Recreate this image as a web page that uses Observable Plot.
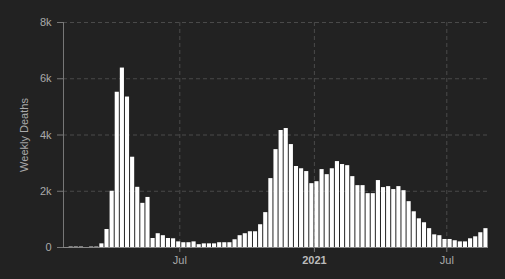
<!DOCTYPE html>
<html>
<head>
<meta charset="utf-8">
<script src="https://cdn.jsdelivr.net/npm/d3@7"></script>
<script src="https://cdn.jsdelivr.net/npm/@observablehq/plot@0.6"></script>
<style>
  html, body { margin: 0; padding: 0; background: #222222; }
  #chart { width: 505px; height: 279px; overflow: hidden; }
</style>
</head>
<body>
<div id="chart"></div>
<script>
// Week start dates (Friday) and weekly deaths
const weeks = [
  "2020-01-24","2020-01-31","2020-02-07","2020-02-14","2020-02-21","2020-02-28","2020-03-06",
  "2020-03-13","2020-03-20","2020-03-27","2020-04-03","2020-04-10","2020-04-17","2020-04-24",
  "2020-05-01","2020-05-08","2020-05-15","2020-05-22","2020-05-29","2020-06-05","2020-06-12",
  "2020-06-19","2020-06-26","2020-07-03","2020-07-10","2020-07-17","2020-07-24","2020-07-31",
  "2020-08-07","2020-08-14","2020-08-21","2020-08-28","2020-09-04","2020-09-11","2020-09-18",
  "2020-09-25","2020-10-02","2020-10-09","2020-10-16","2020-10-23","2020-10-30","2020-11-06",
  "2020-11-13","2020-11-20","2020-11-27","2020-12-04","2020-12-11","2020-12-18","2020-12-25",
  "2021-01-01","2021-01-08","2021-01-15","2021-01-22","2021-01-29","2021-02-05","2021-02-12",
  "2021-02-19","2021-02-26","2021-03-05","2021-03-12","2021-03-19","2021-03-26","2021-04-02",
  "2021-04-09","2021-04-16","2021-04-23","2021-04-30","2021-05-07","2021-05-14","2021-05-21",
  "2021-05-28","2021-06-04","2021-06-11","2021-06-18","2021-06-25","2021-07-02","2021-07-09",
  "2021-07-16","2021-07-23","2021-07-30","2021-08-06","2021-08-13","2021-08-20"
];
const deaths = [
  0, 15, 15, 15, 0, 15, 15,
  130, 640, 2000, 5520, 6380, 5350, 3210,
  2140, 1570, 1780, 320, 490, 420, 320,
  310, 200, 170, 170, 200, 100, 130,
  130, 130, 170, 170, 170, 275, 420,
  490, 560, 560, 810, 1240, 2450, 3480,
  4160, 4230, 3660, 2880, 2800, 2700, 2270,
  2340, 2770, 2590, 2800, 3055, 2950, 2910,
  2520, 2200, 2200, 1915, 1915, 2380, 2130,
  2165, 2060, 2165, 2020, 1630, 1270, 1020,
  880, 670, 450, 420, 285, 285, 240,
  200, 200, 310, 380, 525, 670
];
const xDomain = ["2020-01-24", "2021-08-27"];
const monthTicks = ["2020-07-01", "2021-07-01"];
const monthTickLabels = ["Jul", "Jul"];
const yearTicks = ["2021-01-01"];
const yearTickLabels = ["2021"];
const yTicks = [0, 2000, 4000, 6000, 8000];
const yTickLabels = ["0", "2k", "4k", "6k", "8k"];
const yLabel = "Weekly Deaths";

const data = weeks.map((w, i) => {
  const start = new Date(w);
  return { start, end: d3.utcDay.offset(start, 7), deaths: deaths[i] };
});
const mTicks = monthTicks.map(d => new Date(d));
const yrTicks = yearTicks.map(d => new Date(d));
const dom = xDomain.map(d => new Date(d));

const chart = Plot.plot({
  width: 505,
  height: 279,
  marginLeft: 63,
  marginRight: 17,
  marginTop: 22,
  marginBottom: 32,
  style: {
    background: "#222222",
    color: "#aaaaaa",
    fontFamily: "'Liberation Sans', Arial, sans-serif",
    fontSize: "11px"
  },
  x: { type: "utc", domain: dom },
  y: { domain: [0, 8000] },
  marks: [
    Plot.gridY(yTicks, { stroke: "#4a4a4a", strokeOpacity: 1, strokeDasharray: "4,3" }),
    Plot.gridX([...mTicks, ...yrTicks], { stroke: "#4a4a4a", strokeOpacity: 1, strokeDasharray: "4,3" }),
    Plot.rectY(data, {
      x1: "start", x2: "end", y: "deaths",
      fill: "#ffffff", insetLeft: 0.5, insetRight: 0.5
    }),
    Plot.ruleY([0], { stroke: "#888888" }),
    Plot.ruleX([dom[0]], { stroke: "#777777" }),
    Plot.axisY({
      ticks: yTicks,
      tickFormat: (d) => yTickLabels[yTicks.indexOf(d)],
      tickSize: 6, tickPadding: 6, stroke: "#777777", label: null, fill: "#aaaaaa"
    }),
    Plot.axisX({
      ticks: mTicks,
      tickFormat: (d) => monthTickLabels[mTicks.findIndex(t => +t === +d)],
      tickSize: 5, tickPadding: 4, stroke: "#777777", label: null, fill: "#aaaaaa"
    }),
    Plot.axisX({
      ticks: yrTicks,
      tickFormat: (d) => yearTickLabels[yrTicks.findIndex(t => +t === +d)],
      tickSize: 5, tickPadding: 4, stroke: "#777777", label: null,
      fill: "#bbbbbb", fontWeight: "bold"
    }),
    Plot.text([yLabel], {
      frameAnchor: "left", dx: -39, rotate: -90, fill: "#aaaaaa",
      textAnchor: "middle", lineAnchor: "middle", fontSize: 11
    })
  ]
});
document.getElementById("chart").appendChild(chart);
</script>
</body>
</html>
